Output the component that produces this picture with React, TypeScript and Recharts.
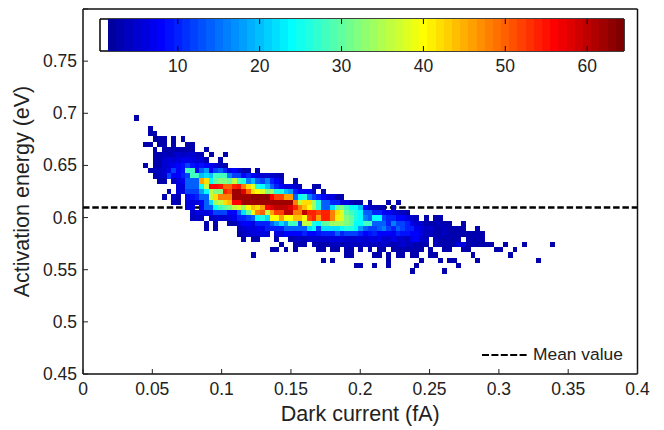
import { ScatterChart, Scatter, XAxis, YAxis, ReferenceLine, Legend } from 'recharts';

const FONT = '"Liberation Sans", Arial, sans-serif';
const TEXT = '#222';

const xTicks = [0, 0.05, 0.1, 0.15, 0.2, 0.25, 0.3, 0.35, 0.4];
const yTicks = [0.45, 0.5, 0.55, 0.6, 0.65, 0.7, 0.75, 0.8];
const yLabels = [0.45, 0.5, 0.55, 0.6, 0.65, 0.7, 0.75];
const colorTicks = [10, 20, 30, 40, 50, 60];
const colorLevels = [
  2, 3, 4, 5, 6, 7, 8, 9, 10, 11, 12, 13, 14, 15, 16, 17, 18, 19, 20, 21, 22, 23, 24, 25, 26, 27, 28, 29, 30, 31, 32, 33,
  34, 35, 36, 37, 38, 39, 40, 41, 42, 43, 44, 45, 46, 47, 48, 49, 50, 51, 52, 53, 54, 55, 56, 57, 58, 59, 60, 61, 62, 63, 64,
];
const meanValue = 0.6097;

// histogram bins
const firstBinX = 0.03848;
const binStepX = 0.003372;
const firstBinY = 0.6956;
const binStepY = 0.005057;

// first occupied column of every row, top row first
const rowStarts = [0, 0, 3, 3, 4, 2, 4, 4, 4, 2, 3, 4, 5, 9, 7, 6, 8, 11, 12, 12, 15, 15, 22, 23, 31, 29, 25, 40, 47, 59];

// counts, one array per row
const rowCounts = [
  [3],
  [],
  [3],
  [3, 3],
  [2, 3, 3, 0, 3, 0, 3],
  [3, 3, 0, 3, 3, 0, 3, 0, 0, 3, 3],
  [3, 0, 3, 3, 3, 3, 3, 3, 3, 0, 0, 3],
  [3, 3, 4, 3, 4, 5, 4, 5, 5, 4, 4, 0, 3, 0, 0, 3],
  [3, 3, 5, 6, 5, 6, 7, 7, 6, 5, 6, 3, 0, 0, 3],
  [3, 0, 3, 3, 5, 6, 7, 8, 9, 12, 9, 8, 9, 8, 7, 6, 4, 3],
  [3, 4, 4, 5, 7, 12, 8, 9, 28, 28, 8, 14, 18, 8, 12, 14, 10, 6, 8, 5, 3, 3, 0, 3],
  [3, 4, 5, 12, 8, 8, 10, 12, 28, 28, 20, 22, 20, 28, 28, 28, 16, 12, 12, 8, 10, 8, 6, 5, 5, 5, 4, 3],
  [3, 3, 0, 4, 6, 8, 14, 14, 14, 46, 42, 24, 30, 32, 32, 30, 36, 28, 26, 16, 20, 14, 12, 16, 10, 8, 5, 0, 0, 3],
  [6, 6, 14, 14, 14, 24, 36, 56, 56, 55, 50, 50, 54, 55, 48, 42, 38, 26, 24, 20, 14, 10, 8, 6, 6, 5, 4, 0, 0, 3, 3],
  [3, 0, 6, 6, 12, 12, 12, 18, 24, 36, 32, 32, 54, 52, 62, 62, 58, 50, 42, 40, 38, 32, 34, 26, 26, 20, 18, 10, 8, 8, 8, 4, 0, 3],
  [3, 0, 5, 3, 0, 8, 9, 10, 14, 14, 36, 42, 48, 48, 48, 62, 62, 62, 62, 63, 63, 63, 63, 56, 52, 52, 46, 46, 14, 24, 26, 16, 12, 10, 8, 6, 6, 3, 3],
  [4, 3, 0, 6, 6, 6, 8, 14, 22, 34, 36, 42, 44, 56, 56, 62, 62, 62, 62, 62, 62, 62, 62, 62, 62, 62, 48, 36, 42, 42, 34, 26, 14, 14, 10, 10, 6, 6, 4, 3, 3, 0, 3, 0, 0, 0, 3, 0, 3],
  [6, 7, 0, 8, 14, 14, 24, 28, 30, 32, 36, 38, 34, 40, 44, 42, 46, 56, 58, 60, 60, 60, 58, 54, 48, 44, 40, 34, 26, 14, 14, 22, 30, 32, 28, 24, 24, 20, 8, 5, 4, 3, 3, 0, 3],
  [5, 6, 6, 6, 8, 12, 12, 12, 8, 8, 14, 22, 30, 40, 48, 50, 36, 46, 52, 52, 60, 60, 48, 48, 60, 54, 54, 52, 54, 54, 48, 42, 38, 30, 28, 26, 24, 14, 14, 10, 10, 8, 7, 6, 5, 4, 3],
  [4, 5, 4, 0, 4, 5, 5, 5, 6, 7, 10, 10, 12, 14, 24, 26, 22, 40, 40, 46, 40, 40, 44, 44, 40, 52, 54, 46, 54, 54, 48, 41, 38, 32, 30, 26, 24, 16, 14, 24, 24, 12, 10, 10, 8, 8, 6, 5, 4, 0, 3, 0, 3, 3],
  [3, 0, 3, 0, 0, 3, 3, 6, 8, 8, 6, 10, 10, 10, 14, 18, 22, 18, 28, 28, 12, 36, 36, 26, 24, 30, 30, 34, 34, 34, 32, 30, 24, 24, 28, 28, 14, 14, 14, 10, 16, 12, 12, 10, 7, 5, 5, 3, 3, 3, 4, 3, 3, 0, 0, 3],
  [3, 0, 3, 0, 0, 0, 0, 4, 5, 6, 6, 7, 7, 10, 10, 10, 10, 14, 14, 14, 14, 14, 22, 24, 12, 22, 22, 22, 22, 24, 26, 26, 24, 18, 14, 12, 12, 14, 16, 12, 10, 14, 12, 10, 10, 7, 6, 4, 5, 3, 3, 4, 3, 3, 3, 3, 0, 0, 3],
  [3, 4, 5, 6, 6, 6, 6, 0, 6, 6, 8, 8, 8, 8, 10, 8, 8, 9, 10, 10, 10, 14, 10, 12, 12, 12, 10, 8, 9, 10, 8, 8, 8, 7, 10, 9, 9, 8, 8, 6, 4, 4, 3, 3, 4, 3, 3, 3, 3, 3, 3, 3, 3],
  [3, 0, 3, 3, 0, 0, 0, 3, 0, 0, 3, 4, 4, 4, 5, 5, 5, 5, 5, 6, 6, 6, 5, 5, 5, 6, 5, 6, 6, 7, 5, 5, 7, 5, 5, 4, 7, 8, 5, 4, 0, 4, 3, 3, 3, 3, 3, 0, 3, 3, 3, 3],
  [3, 0, 0, 3, 3, 3, 0, 3, 3, 3, 3, 4, 4, 3, 4, 4, 4, 4, 5, 4, 4, 4, 5, 4, 3, 4, 5, 4, 4, 3, 3, 3, 0, 4, 3, 3, 3, 3, 6, 6, 3, 3, 3, 3, 3, 3, 0, 0, 3, 0, 0, 0, 3, 0, 0, 0, 0, 0, 3],
  [3, 3, 0, 3, 0, 3, 0, 0, 0, 0, 3, 3, 0, 3, 3, 0, 3, 3, 0, 3, 0, 3, 0, 3, 3, 0, 3, 3, 3, 3, 3, 3, 3, 0, 3, 0, 0, 3, 3, 0, 0, 3, 3, 0, 0, 0, 0, 0, 3, 3, 0, 0, 3],
  [3, 0, 0, 0, 0, 0, 0, 0, 0, 0, 0, 0, 0, 0, 0, 0, 0, 0, 0, 0, 3, 3, 0, 0, 0, 0, 3, 3, 0, 3, 0, 3, 3, 0, 3, 3, 0, 0, 3, 3, 0, 0, 0, 0, 0, 0, 0, 3, 0, 0, 0, 0, 0, 0, 0, 3],
  [3, 0, 3, 0, 0, 0, 0, 0, 0, 0, 0, 0, 0, 0, 3, 0, 0, 0, 0, 0, 0, 3, 0, 0, 0, 3, 0, 3, 3, 0, 0, 0, 0, 3, 0, 0, 0, 0, 0, 0, 0, 0, 0, 0, 0, 0, 3],
  [3, 3, 0, 0, 3, 0, 0, 3, 0, 0, 0, 0, 0, 3, 0, 0, 0, 0, 0, 0, 0, 0, 3],
  [3, 0, 0, 0, 0, 0, 0, 3],
];

// first bin (count 1) is white, as in the colorbar
function jetColor(level: number) {
  const p = level / 64;
  const chan = (c: number) => Math.round(255 * Math.max(0, Math.min(1, 1.5 - Math.abs(4 * p - c))));
  return `rgb(${chan(3)},${chan(2)},${chan(1)})`;
}

const cellData: { x: number; y: number; count: number }[] = [];
rowCounts.forEach((row, t) => {
  row.forEach((count, i) => {
    if (count > 1) {
      cellData.push({
        x: firstBinX + (rowStarts[t] + i) * binStepX,
        y: firstBinY - t * binStepY,
        count,
      });
    }
  });
});

const colorData = colorLevels.map((level) => ({ level, y: 0.5 }));

const HistCell = ({ cx, cy, payload }: any) => (
  <rect x={cx - 2.4} y={cy - 2.7} width={4.8} height={5.4} fill={jetColor(payload.count)} shapeRendering="crispEdges" />
);

const BarCell = ({ cx, cy, payload }: any) => (
  <rect x={cx - 4.2} y={cy - 16.2} width={8.4} height={32.4} fill={jetColor(payload.level)} shapeRendering="crispEdges" />
);

const BottomTick = ({ x, y, payload }: any) => (
  <g>
    <line x1={x} x2={x} y1={y} y2={y - 5} stroke={TEXT} />
    <text x={x} y={y + 21} textAnchor="middle" fontSize={17.5} fontFamily={FONT} fill={TEXT}>
      {payload.value}
    </text>
  </g>
);

const TopTick = ({ x, y }: any) => <line x1={x} x2={x} y1={y} y2={y + 5} stroke={TEXT} />;

const LeftTick = ({ x, y, payload }: any) => (
  <g>
    <line x1={x} x2={x + 5} y1={y} y2={y} stroke={TEXT} />
    {yLabels.includes(payload.value) && (
      <text x={x - 6} y={y + 6} textAnchor="end" fontSize={17.5} fontFamily={FONT} fill={TEXT}>
        {payload.value}
      </text>
    )}
  </g>
);

const RightTick = ({ x, y }: any) => <line x1={x} x2={x - 5} y1={y} y2={y} stroke={TEXT} />;

const ColorTick = ({ x, y, payload }: any) => (
  <g>
    <line x1={x} x2={x} y1={y} y2={y - 5} stroke="#000" />
    <line x1={x} x2={x} y1={y - 32} y2={y - 27} stroke="#000" />
    <text x={x} y={y + 21} textAnchor="middle" fontSize={17.5} fontFamily={FONT} fill={TEXT}>
      {payload.value}
    </text>
  </g>
);

const MeanLegend = () => (
  <div style={{ display: 'flex', alignItems: 'center', fontFamily: FONT, fontSize: 17.4, color: TEXT, whiteSpace: 'nowrap' }}>
    <svg width={51} height={6}>
      <line x1={0} x2={45} y1={3} y2={3} stroke="#000" strokeWidth={2} strokeDasharray="7 2.4" />
    </svg>
    <span>Mean value</span>
  </div>
);

export default function App() {
  return (
    <div style={{ position: 'absolute', left: 0, top: 0, width: 664, height: 430, background: '#fff' }}>
      <ScatterChart width={664} height={430} margin={{ top: 0, right: 0, bottom: 0, left: 0 }}>
        <XAxis
          xAxisId={0}
          type="number"
          dataKey="x"
          domain={[0, 0.4]}
          ticks={xTicks}
          height={56}
          tickSize={0}
          tickMargin={0}
          tick={BottomTick}
          interval={0}
          stroke="#111"
          strokeWidth={1.5}
          label={{ value: 'Dark current (fA)', position: 'insideBottom', offset: 9, fontSize: 21.5, fontFamily: FONT, fill: TEXT }}
        />
        <XAxis xAxisId="top" orientation="top" type="number" domain={[0, 0.4]} ticks={xTicks} height={9} tickSize={0} tickMargin={0} tick={TopTick} interval={0} stroke="#111" strokeWidth={1.5} />
        <YAxis
          yAxisId={0}
          type="number"
          dataKey="y"
          domain={[0.45, 0.8]}
          ticks={yTicks}
          width={83}
          tickSize={0}
          tickMargin={0}
          tick={LeftTick}
          interval={0}
          stroke="#111"
          strokeWidth={1.5}
          label={{ value: 'Activation energy (eV)', angle: -90, position: 'insideLeft', offset: 21, fontSize: 21.5, fontFamily: FONT, fill: TEXT, style: { textAnchor: 'middle' } }}
        />
        <YAxis yAxisId="right" orientation="right" type="number" domain={[0.45, 0.8]} ticks={yTicks} width={26.5} tickSize={0} tickMargin={0} tick={RightTick} interval={0} stroke="#111" strokeWidth={1.5} />
        <Scatter data={cellData} shape={HistCell} isAnimationActive={false} />
        <ReferenceLine y={meanValue} stroke="#000" strokeWidth={2.4} strokeDasharray="6.5 2.8" />
        <Legend
          layout="horizontal"
          verticalAlign="middle"
          content={MeanLegend}
          wrapperStyle={{ position: 'absolute', left: 482, top: 344, width: 150, height: 20 }}
        />
      </ScatterChart>
      <div style={{ position: 'absolute', left: 89.5, top: 13 }}>
        <ScatterChart width={544} height={66} margin={{ top: 0, right: 0, bottom: 0, left: 0 }}>
          <XAxis xAxisId={0} type="number" dataKey="level" domain={[0.5, 64.5]} ticks={colorTicks} height={28} tickSize={0} tickMargin={0} tick={ColorTick} interval={0} stroke="#000" strokeWidth={1.5} />
          <XAxis xAxisId="top" orientation="top" type="number" domain={[0.5, 64.5]} ticks={[]} height={6} stroke="#000" strokeWidth={1.5} tick={false} />
          <YAxis yAxisId={0} type="number" dataKey="y" domain={[0, 1]} ticks={[]} width={10} stroke="#000" strokeWidth={1.5} tick={false} />
          <YAxis yAxisId="right" orientation="right" type="number" domain={[0, 1]} ticks={[]} width={10} stroke="#000" strokeWidth={1.5} tick={false} />
          <Scatter data={colorData} shape={BarCell} isAnimationActive={false} />
        </ScatterChart>
      </div>
    </div>
  );
}
